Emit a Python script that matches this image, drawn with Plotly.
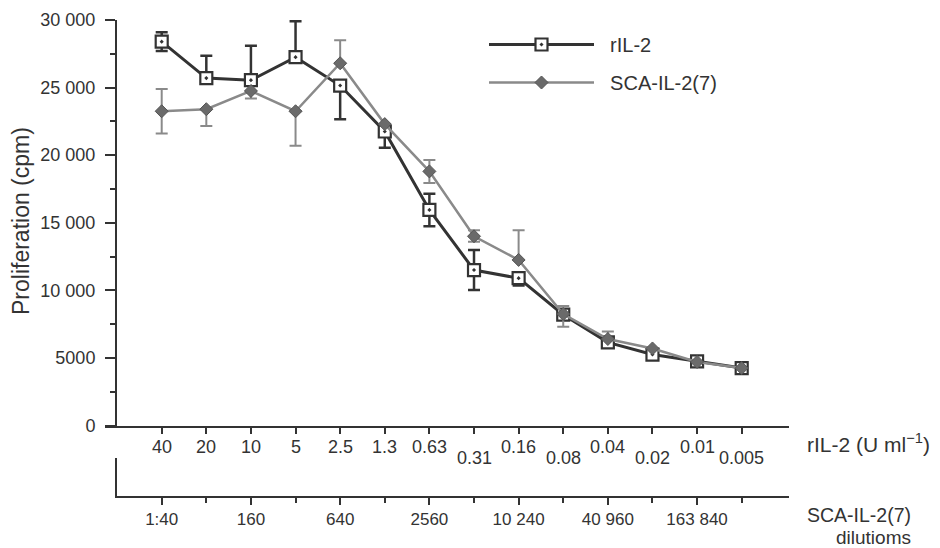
import plotly.graph_objects as go

# ---- data ----
ril2_doses = ["40", "20", "10", "5", "2.5", "1.3", "0.63", "0.31", "0.16", "0.08",
              "0.04", "0.02", "0.01", "0.005"]
sca_dilution_pos = [0, 2, 4, 6, 8, 10, 12]
sca_dilutions = ["1:40", "160", "640", "2560", "10 240", "40 960", "163 840"]

ril2_cpm = [28400, 25700, 25550, 27250, 25150, 21750, 15950, 11500, 10900, 8200,
            6150, 5250, 4750, 4250]
ril2_err_plus = [700, 1650, 2550, 2650, 0, 0, 1200, 1480, 0, 0, 0, 0, 0, 0]
ril2_err_minus = [700, 0, 0, 0, 2500, 1200, 1200, 1480, 550, 0, 0, 0, 0, 0]

sca_cpm = [23250, 23400, 24750, 23250, 26800, 22300, 18800, 14000, 12250, 8250,
           6400, 5700, 4700, 4250]
sca_err_plus = [1650, 0, 0, 0, 1700, 0, 850, 450, 2200, 600, 550, 0, 0, 0]
sca_err_minus = [1650, 1250, 550, 2550, 0, 0, 850, 400, 0, 940, 0, 0, 0, 0]

y_tick_vals = [0, 5000, 10000, 15000, 20000, 25000, 30000]
y_tick_text = ["0", "5000", "10 000", "15 000", "20 000", "25 000", "30 000"]

# ---- layout geometry (targets in window pixels; page body has an 8px margin) ----
OFF = 8
WIN_W, WIN_H = 940, 548
W, H = WIN_W - OFF, WIN_H - OFF
plot_left, plot_right, plot_top, plot_bottom = 105, 789, 20, 496
ML, MR = plot_left - OFF, WIN_W - plot_right
MT, MB = plot_top - OFF, WIN_H - plot_bottom
pw = plot_right - plot_left
ph = plot_bottom - plot_top


def fx(px):
    return (px - plot_left) / pw


def fy(py):
    return (plot_bottom - py) / ph


px_per_step = 44.615
first_px = 161.7
x0 = (plot_left - first_px) / px_per_step
x1 = (plot_right - first_px) / px_per_step
y_bottom_px = 425.5
yaxis_px = 116
x2_left_px = 117
x2_r0 = (x2_left_px - first_px) / px_per_step

FONT = "Liberation Sans, Arial, sans-serif"
INK = "#333333"
GREY = "#8a8a8a"

idx = list(range(len(ril2_doses)))
unlabelled = [i for i in idx if i not in sca_dilution_pos]

fig = go.Figure()
fig.add_trace(go.Scatter(
    x=idx, y=ril2_cpm, name="\u00a0\u00a0rIL-2", mode="lines+markers",
    line=dict(color=INK, width=3),
    marker=dict(symbol="square-dot", size=12, color="white",
                line=dict(color=INK, width=2.2)),
    error_y=dict(type="data", symmetric=False, array=ril2_err_plus,
                 arrayminus=ril2_err_minus, color=INK, thickness=2.5, width=6),
    legendgroup="a",
))
fig.add_trace(go.Scatter(
    x=idx, y=sca_cpm, name="\u00a0\u00a0SCA-IL-2(7)", mode="lines+markers",
    line=dict(color=GREY, width=2.5),
    marker=dict(symbol="diamond", size=10, color="#6a6a6a",
                line=dict(color="#555555", width=1)),
    error_y=dict(type="data", symmetric=False, array=sca_err_plus,
                 arrayminus=sca_err_minus, color=GREY, thickness=2, width=6),
    legendgroup="b",
))
# placeholder trace so the second (dilution) axis is drawn
fig.add_trace(go.Scatter(x=[None], y=[None], xaxis="x2", yaxis="y2",
                         showlegend=False, hoverinfo="skip"))

annotations = []
for i, lab in enumerate(ril2_doses):
    lowered = i >= 7 and i % 2 == 1
    annotations.append(dict(
        x=i, xref="x", y=0, yref="y", text=lab, showarrow=False,
        yanchor="middle", yshift=-32 if lowered else -21.5,
        font=dict(family=FONT, size=18, color=INK)))

annotations.append(dict(
    x=fx(805), xref="paper", y=fy(443), yref="paper",
    text="rIL-2 (U ml<sup>−1</sup>)", showarrow=False, xanchor="left",
    yanchor="middle", font=dict(family=FONT, size=21, color=INK)))
annotations.append(dict(
    x=fx(805), xref="paper", y=fy(515), yref="paper",
    text="SCA-IL-2(7)", showarrow=False, xanchor="left",
    yanchor="middle", font=dict(family=FONT, size=19.5, color=INK)))
annotations.append(dict(
    x=fx(873), xref="paper", y=fy(537), yref="paper",
    text="dilutioms", showarrow=False, xanchor="center",
    yanchor="middle", font=dict(family=FONT, size=19, color=INK)))
annotations.append(dict(
    x=fx(21), xref="paper", y=fy(221), yref="paper",
    text="Proliferation (cpm)", showarrow=False, textangle=-90,
    xanchor="center", yanchor="middle", font=dict(family=FONT, size=23, color=INK)))

fig.update_layout(
    width=W, height=H,
    margin=dict(l=ML, r=MR, t=MT, b=MB, pad=0, autoexpand=False),
    paper_bgcolor="white", plot_bgcolor="white",
    font=dict(family=FONT, color=INK),
    showlegend=True,
    legend=dict(x=fx(484), y=fy(25), xanchor="left", yanchor="top",
                xref="paper", yref="paper", itemwidth=105, traceorder="grouped",
                tracegroupgap=9, bgcolor="rgba(0,0,0,0)",
                font=dict(family=FONT, size=20, color=INK)),
    xaxis=dict(domain=[0, 1], range=[x0, x1], anchor="y", showline=True,
               linecolor=INK, linewidth=2, ticks="outside", ticklen=6, tickwidth=2,
               tickcolor=INK, tickvals=idx, showticklabels=False,
               showgrid=False, zeroline=False, fixedrange=True),
    yaxis=dict(domain=[fy(y_bottom_px), 1], range=[0, 30000], anchor="free",
               position=fx(yaxis_px), showline=True, linecolor=INK,
               linewidth=2, ticks="outside", ticklen=10, tickwidth=2, tickcolor=INK,
               tickvals=y_tick_vals, ticktext=y_tick_text, ticklabelstandoff=6,
               tickfont=dict(family=FONT, size=18, color=INK),
               minor=dict(dtick=2500, ticks="outside", ticklen=5, tickwidth=2,
                          tickcolor=INK, showgrid=False),
               showgrid=False, zeroline=False, fixedrange=True),
    xaxis2=dict(domain=[fx(x2_left_px), 1], range=[x2_r0, x1], anchor="y2",
                showline=True, linecolor=INK, linewidth=2, ticks="outside",
                ticklen=7, tickwidth=2, tickcolor=INK,
                tickvals=sca_dilution_pos, ticktext=sca_dilutions,
                tickfont=dict(family=FONT, size=17, color=INK),
                minor=dict(tickmode="array", tickvals=unlabelled, ticks="outside",
                           ticklen=5, tickwidth=2, tickcolor=INK, showgrid=False),
                showgrid=False, zeroline=False, fixedrange=True),
    yaxis2=dict(domain=[0, fy(458)], range=[0, 1], anchor="x2",
                showline=True, linecolor=INK, linewidth=2, ticks="",
                showticklabels=False, showgrid=False, zeroline=False, fixedrange=True),
    annotations=annotations,
)

fig.write_html("out.html")
